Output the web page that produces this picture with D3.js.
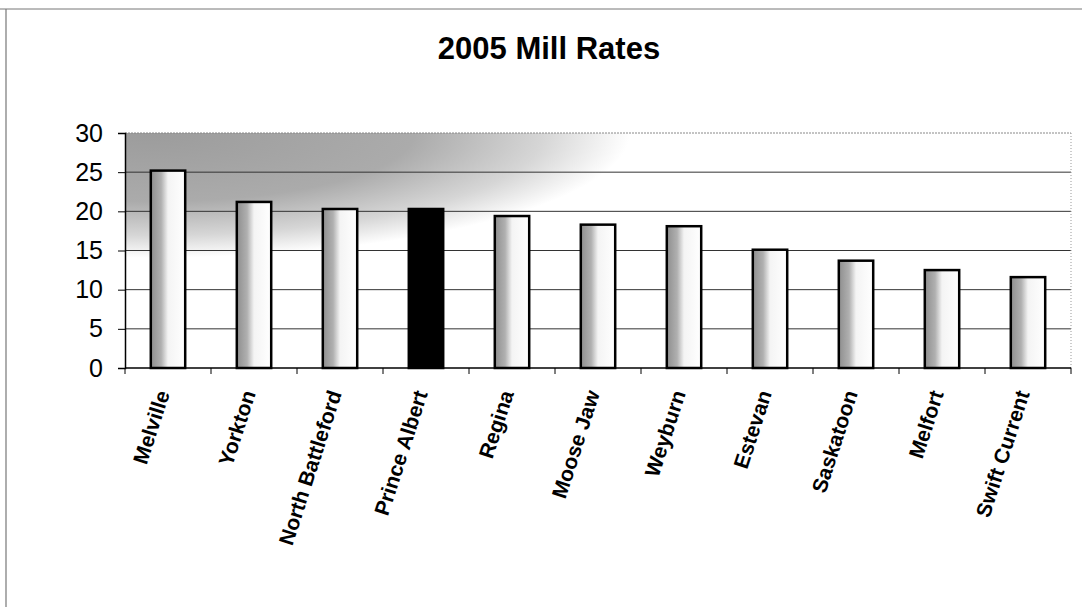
<!DOCTYPE html>
<html>
<head>
<meta charset="utf-8">
<script src="https://cdn.jsdelivr.net/npm/d3@7"></script>
<style>
body{margin:0;background:#fff}
text{font-family:"Liberation Sans",Arial,sans-serif}
</style>
</head>
<body>
<svg id="chart" width="1082" height="607"></svg>
<script>
// data
const cities=["Melville","Yorkton","North Battleford","Prince Albert","Regina","Moose Jaw","Weyburn","Estevan","Saskatoon","Melfort","Swift Current"]
const rates=[25.2,21.2,20.3,20.3,19.4,18.3,18.1,15.1,13.7,12.5,11.6]
const yTicks=[0,5,10,15,20,25,30]
const highlight="Prince Albert"

const svg=d3.select("#chart")
const pLeft=125,pRight=1071,pTop=133,pBottom=368

const x=d3.scaleBand().domain(cities).range([pLeft,pRight]).padding(0)
const y=d3.scaleLinear().domain([0,30]).range([pBottom,pTop])

const defs=svg.append("defs")
const bg=defs.append("radialGradient").attr("id","bg")
	.attr("gradientUnits","userSpaceOnUse")
	.attr("cx",150).attr("cy",133).attr("r",480)
	.attr("gradientTransform","translate(150,133) scale(1,0.26) translate(-150,-133)")
bg.append("stop").attr("offset","0%").attr("stop-color","#9c9c9c")
bg.append("stop").attr("offset","55%").attr("stop-color","#ababab")
bg.append("stop").attr("offset","82%").attr("stop-color","#d6d6d6")
bg.append("stop").attr("offset","100%").attr("stop-color","#ffffff")

const bar=defs.append("linearGradient").attr("id","bar")
	.attr("x1","0%").attr("x2","100%").attr("y1","0").attr("y2","0")
bar.append("stop").attr("offset","0%").attr("stop-color","#8e8e8e")
bar.append("stop").attr("offset","30%").attr("stop-color","#b0b0b0")
bar.append("stop").attr("offset","50%").attr("stop-color","#f4f4f4")
bar.append("stop").attr("offset","100%").attr("stop-color","#ffffff")

// outer frame
svg.append("line").attr("x1",0).attr("x2",1082).attr("y1",9).attr("y2",9).attr("stroke","#777").attr("stroke-width",1)
svg.append("line").attr("x1",6).attr("x2",6).attr("y1",9).attr("y2",607).attr("stroke","#777").attr("stroke-width",1.2)

svg.append("text").attr("x",549).attr("y",59).attr("text-anchor","middle")
	.attr("font-size",31).attr("font-weight","bold").text("2005 Mill Rates")

// plot background
svg.append("rect").attr("x",pLeft).attr("y",pTop).attr("width",pRight-pLeft).attr("height",pBottom-pTop)
	.attr("fill","url(#bg)")

// gridlines
svg.append("g").selectAll("line").data(yTicks.filter(t=>t>0))
	.join("line").attr("x1",pLeft).attr("x2",pRight)
	.attr("y1",d=>y(d)).attr("y2",d=>y(d))
	.attr("stroke",d=>d==30?"#888":"#333").attr("stroke-width",1)
	.attr("stroke-dasharray",d=>d==30?"2,1":null)
svg.append("line").attr("x1",pRight).attr("x2",pRight).attr("y1",pTop).attr("y2",pBottom)
	.attr("stroke","#999").attr("stroke-dasharray","1,2")

// bars
const bw=x.bandwidth()*0.4
svg.append("g").selectAll("rect").data(cities)
	.join("rect")
	.attr("x",d=>x(d)+(x.bandwidth()-bw)/2)
	.attr("y",(d,i)=>y(rates[i]))
	.attr("width",bw)
	.attr("height",(d,i)=>pBottom-y(rates[i]))
	.attr("fill",d=>d==highlight?"#000":"url(#bar)")
	.attr("stroke","#000").attr("stroke-width",2.5)

// y axis
const ya=svg.append("g").attr("transform",`translate(${pLeft},0)`)
	.call(d3.axisLeft(y).tickValues(yTicks).tickSize(7).tickPadding(15))
ya.select(".domain").attr("stroke","#000").attr("stroke-width",1.5)
ya.selectAll("text").attr("font-size",25).attr("fill","#000")
	.style("font-family","'Liberation Sans',Arial,sans-serif")

// x axis with ticks between categories
svg.append("line").attr("x1",pLeft).attr("x2",pRight).attr("y1",pBottom).attr("y2",pBottom)
	.attr("stroke","#000").attr("stroke-width",1.5)
const bounds=cities.map(c=>x(c)).concat([pRight])
svg.append("g").selectAll("line").data(bounds)
	.join("line").attr("x1",d=>d).attr("x2",d=>d)
	.attr("y1",pBottom).attr("y2",pBottom+6).attr("stroke","#000")

svg.append("g").selectAll("text").data(cities)
	.join("text")
	.attr("transform",d=>`translate(${x(d)+x.bandwidth()/2-5},391) rotate(-72)`)
	.attr("text-anchor","end")
	.attr("dy","0.35em")
	.attr("font-size",21).attr("font-weight","bold")
	.text(d=>d)
</script>
</body>
</html>
